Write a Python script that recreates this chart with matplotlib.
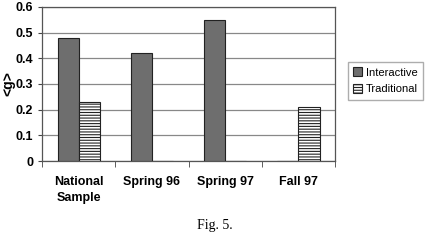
import numpy as np
import matplotlib
matplotlib.use("Agg")
import matplotlib.pyplot as plt

categories = ["National\nSample", "Spring 96", "Spring 97", "Fall 97"]
interactive = [0.48, 0.42, 0.55, 0.0]
traditional = [0.23, 0.0, 0.0, 0.21]
yticks = [0, 0.1, 0.2, 0.3, 0.4, 0.5, 0.6]

plt.rcParams["font.family"] = ["Liberation Sans", "DejaVu Sans"]
plt.rcParams["hatch.linewidth"] = 0.8

fig = plt.figure(figsize=(4.3, 2.4), dpi=100)
ax = fig.add_axes([0.098, 0.329, 0.681, 0.642])

x = np.arange(len(categories))
w = 0.29
ax.bar(x - w / 2, interactive, w, color="#6e6e6e", edgecolor="#222222",
       linewidth=0.8, label="Interactive", zorder=3)
ax.bar(x + w / 2, traditional, w, color="white", edgecolor="#222222",
       hatch="------", linewidth=0.8, label="Traditional", zorder=3)

ax.set_xlim(-0.5, len(categories) - 0.5)
ax.set_ylim(0, 0.6)
ax.set_yticks(yticks)
ax.set_yticklabels([f"{v:g}" for v in yticks], fontsize=9, fontweight="bold")
ax.set_xticks(x)
ax.set_xticklabels(categories, fontsize=9, fontweight="bold", linespacing=1.4)
ax.tick_params(axis="x", length=0, pad=11)
ax.set_xticks(np.arange(len(categories) + 1) - 0.5, minor=True)
ax.tick_params(axis="x", which="minor", length=4, color="#444444")
ax.tick_params(axis="y", length=3, color="#444444")
ax.grid(axis="y", color="#888888", linewidth=0.9, zorder=0)
for s in ax.spines.values():
    s.set_color("#555555")
    s.set_linewidth(0.9)
ax.set_ylabel("<g>", fontsize=10, fontweight="bold", labelpad=0)

ax.legend(loc="center left", bbox_to_anchor=(1.025, 0.52), fontsize=8,
          frameon=True, fancybox=False, edgecolor="#999999",
          handlelength=0.8, handleheight=0.8, handletextpad=0.3,
          borderpad=0.5, labelspacing=0.6)

fig.text(0.5, 0.06, "Fig. 5.", ha="center", va="center", fontsize=10,
         family=["Liberation Serif", "DejaVu Serif"])

fig.savefig("out.png", dpi=100, facecolor="white")
